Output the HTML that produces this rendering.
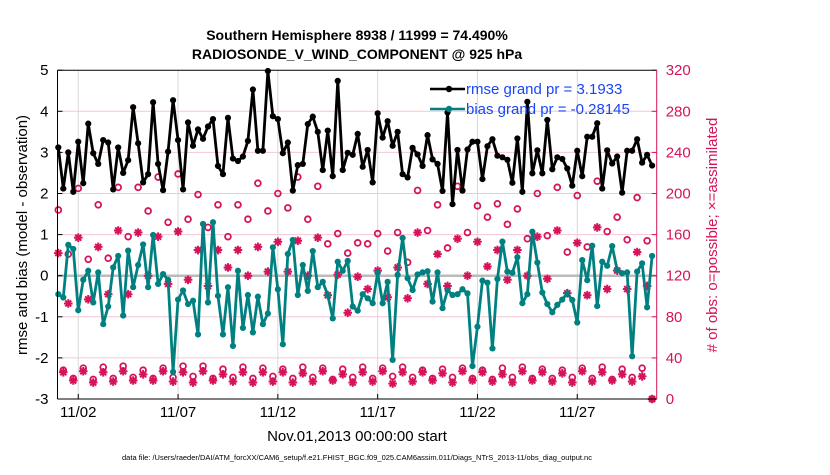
<!DOCTYPE html>
<html><head><meta charset="utf-8"><style>
body{margin:0;background:#fff;}
svg text{font-family:"Liberation Sans",sans-serif;}
</style></head><body>
<svg id="chart" width="830" height="470" viewBox="0 0 830 470" xmlns="http://www.w3.org/2000/svg">
<rect width="830" height="470" fill="#fff"/>
<g id="grid"></g><g id="series"></g><g id="axes"></g>
<text x="357" y="40" font-size="14" font-weight="bold" text-anchor="middle">Southern Hemisphere 8938 / 11999 = 74.490%</text>
<text x="357" y="59" font-size="14" font-weight="bold" text-anchor="middle">RADIOSONDE_V_WIND_COMPONENT @ 925 hPa</text>
<text x="357" y="441" font-size="15" text-anchor="middle">Nov.01,2013 00:00:00 start</text>
<text transform="translate(27,235) rotate(-90)" font-size="15" text-anchor="middle">rmse and bias (model - observation)</text>
<text transform="translate(717,235) rotate(-90)" font-size="15" text-anchor="middle" fill="#d6135a"># of obs: o=possible; ×=assimilated</text>
<text x="357" y="460" font-size="7.5" text-anchor="middle">data file: /Users/raeder/DAI/ATM_forcXX/CAM6_setup/f.e21.FHIST_BGC.f09_025.CAM6assim.011/Diags_NTrS_2013-11/obs_diag_output.nc</text>
<g>
<line x1="430" y1="89" x2="465" y2="89" stroke="#000" stroke-width="2.5"/><circle cx="449" cy="89" r="3.2" fill="#000"/>
<text x="466" y="94" font-size="15" fill="#1846f5">rmse grand pr = 3.1933</text>
<line x1="430" y1="109" x2="465" y2="109" stroke="#008080" stroke-width="2.5"/><circle cx="449" cy="109" r="3.2" fill="#008080"/>
<text x="466" y="114" font-size="15" fill="#1846f5">bias grand pr = -0.28145</text>
</g>
</svg>
<script>
const rmse=[3.12,2.12,3.0,2.04,3.26,2.25,3.7,2.98,2.72,3.3,3.24,2.1,3.12,2.5,2.81,4.1,3.22,2.27,2.47,4.22,2.72,2.08,3.02,4.27,3.3,2.1,3.73,3.16,3.56,3.33,3.63,3.81,2.67,2.47,3.84,2.85,2.79,2.9,3.28,4.53,3.04,3.04,4.98,3.88,3.81,2.98,3.24,2.07,2.69,2.72,3.69,3.87,3.5,2.57,3.53,2.42,4.74,2.57,2.99,2.94,3.45,2.65,3.06,2.27,3.95,3.36,3.76,3.16,3.5,2.47,2.39,3.11,2.95,2.67,3.42,2.83,2.72,2.06,3.97,1.74,3.06,2.07,3.07,3.26,3.26,2.35,3.15,3.32,2.92,2.88,2.82,2.26,3.34,2.04,4.23,2.49,3.05,2.49,3.79,2.59,2.88,2.84,2.61,2.19,3.04,2.42,3.38,3.38,3.71,2.12,3.05,2.73,2.9,2.02,3.04,3.04,3.32,2.75,2.94,2.68];
const bias=[-0.45,-0.53,0.75,0.65,-0.84,-0.1,0.12,-0.65,0.08,-1.18,-0.75,0.2,0.48,-0.97,0.61,-0.28,0.26,0.76,-0.28,0.99,-0.2,0.04,-0.1,-2.34,-0.58,-0.36,-0.69,-0.61,-1.43,1.26,-0.65,1.3,-0.49,-1.43,-0.28,-1.71,0.12,-1.27,-0.47,-1.38,-0.51,-1.18,-0.92,0.69,-0.33,-1.67,0.53,0.87,-0.47,0.26,-0.37,0.6,-0.28,-0.15,-0.47,-1.04,0.34,0.12,0.36,-0.75,-0.85,-0.45,-0.55,-0.67,0.07,-0.67,-0.15,-2.05,0.02,0.92,-0.06,-0.35,0.03,0.08,0.11,-0.63,0.08,-0.79,-0.35,-0.47,-0.45,-0.33,-0.43,-2.2,-1.24,-0.12,-0.17,-1.77,-0.08,0.83,0.1,0.07,0.45,-0.67,-0.45,1.07,0.32,-0.41,-0.69,-0.89,-0.71,-0.58,-0.43,-0.59,-1.14,0.38,-0.11,0.73,-0.74,0.34,0.24,0.72,0.14,0.06,0.08,-1.96,0.1,0.3,-0.77,0.48];
const possibleHigh=[184,141,205,136,189,137,206,158,206,183,216,172,219,175,199,167,189,158,189,175,210,183,200,186,216,175,207,151,161,142,152,151,161,144,162,133,203,164,189,147,207,162,188,177,190,170,185,156,200,159,206,143,198,148,212,163,177,155,196,154];
const assimHigh=[142,93,157,97,148,102,164,102,162,120,158,112,163,116,145,110,145,128,145,120,148,124,153,124,154,120,157,101,121,84,119,107,125,99,128,98,162,112,141,110,156,120,153,129,145,116,145,120,158,117,164,103,152,101,167,107,125,107,143,110];
const possibleLow=[28,20,30,19,31,20,32,21,28,20,30,21,32,22,32,20,29,21,31,20,30,22,29,20,31,21,30,19,29,21,31,20,30,22,31,21,28,20,29,21,30,20,28,19,30,21,31,20,29,20,28,21,30,20,31,19,29,21,30,0];
const assimLow=[26,18,27,16,26,17,27,18,24,18,27,17,26,16,27,18,24,17,26,16,26,17,26,16,25,17,27,18,24,16,26,17,27,15,26,17,26,18,25,16,27,18,26,17,24,16,27,18,26,17,25,16,27,17,26,18,24,17,22,0];
const leftTicks=[-3,-2,-1,0,1,2,3,4,5];
const rightTicks=[0,40,80,120,160,200,240,280,320];
const dateLabels=["11/02","11/07","11/12","11/17","11/22","11/27"];
const dateIndex=[4,24,44,64,84,104];

const NS="http://www.w3.org/2000/svg";
const X0=58.3,DX=4.99,PL=57.5,PR=656.7,PT=70.2,PB=399;
function x(i){return X0+i*DX;}
function y(v){return PB-(v+3)/8*(PB-PT);}
function yR(c){return PB-c/320*(PB-PT);}
function mk(tag,attrs,parent){const e=document.createElementNS(NS,tag);for(const k in attrs)e.setAttribute(k,attrs[k]);parent.appendChild(e);return e;}
const grid=document.getElementById('grid'),ser=document.getElementById('series'),ax=document.getElementById('axes');
leftTicks.forEach(t=>{
  if(t!==0&&t!==-3&&t!==5){const l=mk('line',{x1:PL,x2:PR,y1:y(t),y2:y(t),stroke:'#f4c6d6','stroke-width':1},grid);
  
  }
  const tx=mk('text',{x:PL-9,y:y(t)+5,'font-size':15,'text-anchor':'end'},ax);tx.textContent=t;
  
  
  mk('line',{x1:PL,x2:PL+5,y1:y(t),y2:y(t),stroke:'#000'},ax);
});
rightTicks.forEach(t=>{
  const tx=mk('text',{x:PR+9,y:yR(t)+5,'font-size':15,fill:'#d6135a'},ax);tx.textContent=t;
  
  
  mk('line',{x1:PR-5,x2:PR,y1:yR(t),y2:yR(t),stroke:'#d6135a'},ax);
});
dateLabels.forEach((d,k)=>{
  const xi=x(dateIndex[k]);
  const l=mk('line',{x1:xi,x2:xi,y1:PT,y2:PB,stroke:'#d8d8d8','stroke-width':1},grid);
  
  
  mk('line',{x1:xi,x2:xi,y1:PB,y2:PB-5,stroke:'#000'},ax);
  const tx=mk('text',{x:xi,y:PB+18,'font-size':15,'text-anchor':'middle'},ax);tx.textContent=d;
  
  
});
const z=mk('line',{x1:PL,x2:PR,y1:y(0),y2:y(0),stroke:'#bbb','stroke-width':2.5},grid);


const possible=[],assim=[];
for(let i=0;i<120;i++){if(i%2===0){possible.push(possibleHigh[i/2]);assim.push(assimHigh[i/2]);}else{possible.push(possibleLow[(i-1)/2]);assim.push(assimLow[(i-1)/2]);}}
const C='#d6135a';
possible.forEach((c,i)=>{const e=mk('circle',{cx:x(i),cy:yR(c),r:2.9,fill:'none',stroke:C,'stroke-width':1.8},ser);
  
  });
assim.forEach((c,i)=>{const cx=x(i),cy=yR(c),s=4.3;
  const p=mk('path',{d:`M${cx-s} ${cy}H${cx+s}M${cx} ${cy-s}V${cy+s}M${cx-s*.7} ${cy-s*.7}L${cx+s*.7} ${cy+s*.7}M${cx-s*.7} ${cy+s*.7}L${cx+s*.7} ${cy-s*.7}`,stroke:C,'stroke-width':2},ser);
  
  });
function line(vals,color,name){
  const pl=mk('polyline',{points:vals.map((v,i)=>x(i)+','+y(v)).join(' '),fill:'none',stroke:color,'stroke-width':2.8,'stroke-linejoin':'round'},ser);
  
  
  vals.forEach((v,i)=>{const c=mk('circle',{cx:x(i),cy:y(v),r:3.1,fill:color},ser);
    
    });
}
line(bias,'#008080','bias');
line(rmse,'#000','rmse');
mk('line',{x1:PL,x2:PL,y1:PT,y2:PB,stroke:'#000'},ax);
mk('line',{x1:PL,x2:PR,y1:PT,y2:PT,stroke:'#000'},ax);
mk('line',{x1:PL,x2:PR,y1:PB,y2:PB,stroke:'#000'},ax);
mk('line',{x1:PR,x2:PR,y1:PT,y2:PB,stroke:C},ax);
</script>
</body></html>
